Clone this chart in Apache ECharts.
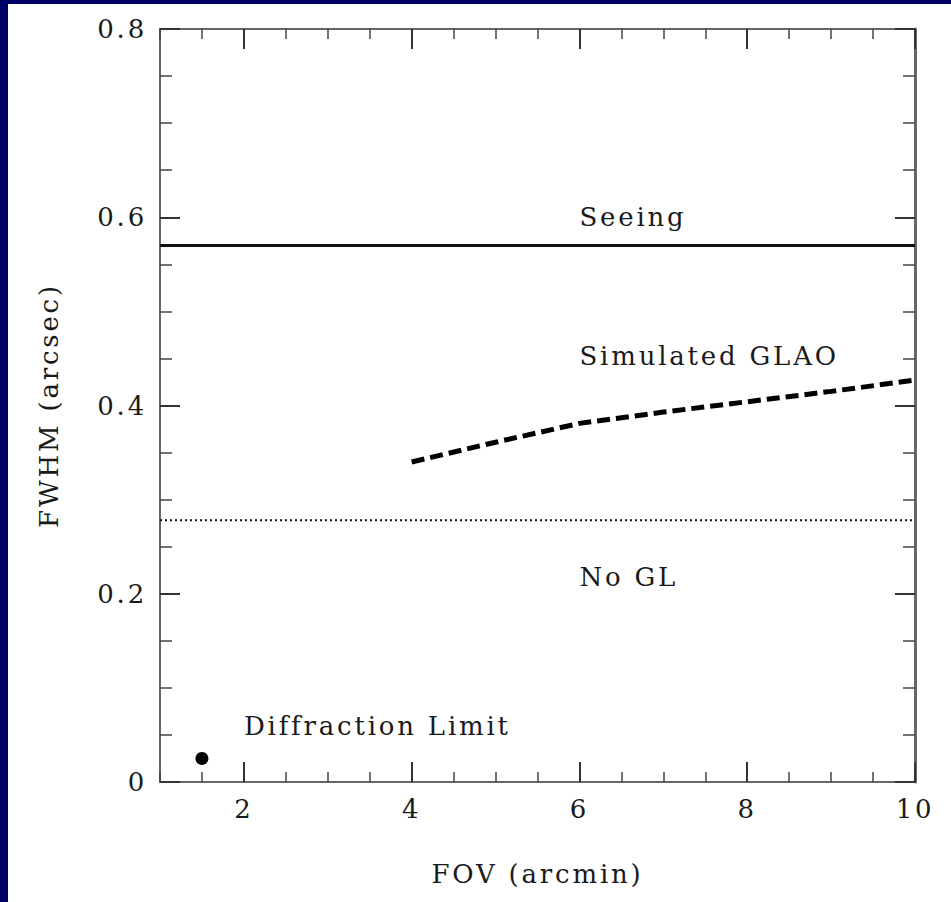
<!DOCTYPE html>
<html>
<head>
<meta charset="utf-8">
<script src="https://cdn.jsdelivr.net/npm/echarts@6/dist/echarts.min.js"></script>
<style>
  html, body { margin: 0; padding: 0; width: 951px; height: 902px; background: #000068; overflow: hidden; }
  #chart { position: absolute; left: 8px; top: 4px; width: 943px; height: 898px; background: #ffffff; }
  /* the original lettering is widely spaced */
  #chart svg text { letter-spacing: 2.8px; }
</style>
</head>
<body>
<div id="chart"></div>
<script>
// data
const seeingX = [1, 10];
const seeingY = [0.57, 0.57];
const noGlX = [1, 10];
const noGlY = [0.278, 0.278];
const glaoX = [4, 5, 6, 7, 8, 9, 10];
const glaoY = [0.34, 0.361, 0.381, 0.393, 0.404, 0.415, 0.427];
const diffX = [1.5];
const diffY = [0.025];

const noteText = ["Seeing", "Simulated GLAO", "No GL", "Diffraction Limit"];
const noteX = [6.0, 6.0, 6.0, 2.0];
const noteY = [0.6, 0.453, 0.218, 0.06];

const xMajorTicks = [2, 4, 6, 8, 10];

const FONT = "DejaVu Serif";
const INK = "#1a1a1a";
const AXIS = "#666";

const zip = (xs, ys) => xs.map((x, i) => [x, ys[i]]);

const chart = echarts.init(document.getElementById("chart"), null, { renderer: "svg" });

const xBase = { type: "value", min: 1, max: 10, splitLine: { show: false } };
const yBase = { type: "value", min: 0, max: 0.8, splitLine: { show: false } };
const minorLine = { color: "#444", width: 1.5 };
const majorLine = { color: "#333", width: 2 };

const option = {
  animation: false,
  backgroundColor: "#ffffff",
  grid: { left: 152, right: 36, top: 25, bottom: 120 },
  xAxis: [
    { ...xBase, position: "bottom", interval: 0.5,
      axisLine: { onZero: false, lineStyle: { color: AXIS, width: 2 } },
      axisTick: { inside: true, length: 10, lineStyle: minorLine },
      axisLabel: { show: false } },
    { ...xBase, position: "bottom",
      axisLine: { show: false, onZero: false },
      axisTick: { inside: true, length: 20, customValues: xMajorTicks, lineStyle: majorLine },
      axisLabel: { customValues: xMajorTicks, fontFamily: FONT, fontSize: 26, color: INK, margin: 14 },
      name: "FOV (arcmin)", nameLocation: "middle", nameGap: 79,
      nameTextStyle: { fontFamily: FONT, fontSize: 26, color: INK } },
    { ...xBase, position: "top", interval: 0.5,
      axisLine: { onZero: false, lineStyle: { color: AXIS, width: 2 } },
      axisTick: { inside: true, length: 10, lineStyle: minorLine },
      axisLabel: { show: false } },
    { ...xBase, position: "top",
      axisLine: { show: false, onZero: false },
      axisTick: { inside: true, length: 20, customValues: xMajorTicks, lineStyle: majorLine },
      axisLabel: { show: false } }
  ],
  yAxis: [
    { ...yBase, position: "left", interval: 0.05,
      axisLine: { show: true, onZero: false, lineStyle: { color: AXIS, width: 2 } },
      axisTick: { show: true, inside: true, length: 12, lineStyle: minorLine },
      axisLabel: { show: false } },
    { ...yBase, position: "left", interval: 0.2,
      axisLine: { show: false, onZero: false },
      axisTick: { show: true, inside: true, length: 20, lineStyle: majorLine },
      axisLabel: { fontFamily: FONT, fontSize: 26, color: INK, margin: 13 },
      name: "FWHM (arcsec)", nameLocation: "middle", nameGap: 98, nameRotate: 90,
      nameTextStyle: { fontFamily: FONT, fontSize: 26, color: INK } },
    { ...yBase, position: "right", interval: 0.05,
      axisLine: { show: true, onZero: false, lineStyle: { color: AXIS, width: 3 } },
      axisTick: { show: true, inside: true, length: 12, lineStyle: minorLine },
      axisLabel: { show: false } },
    { ...yBase, position: "right", interval: 0.2,
      axisLine: { show: false, onZero: false },
      axisTick: { show: true, inside: true, length: 20, lineStyle: majorLine },
      axisLabel: { show: false } }
  ],
  series: [
    {
      name: "Seeing", type: "line", data: zip(seeingX, seeingY),
      symbol: "none", lineStyle: { color: "#111", width: 3 }, silent: true
    },
    {
      name: "No GL", type: "line", data: zip(noGlX, noGlY),
      symbol: "none", lineStyle: { color: "#111", width: 2, type: [2, 3] }, silent: true
    },
    {
      name: "Simulated GLAO", type: "line", data: zip(glaoX, glaoY),
      symbol: "none", lineStyle: { color: "#000", width: 5, type: [13, 6] }, silent: true
    },
    {
      name: "Diffraction Limit", type: "scatter", data: zip(diffX, diffY),
      symbol: "circle", symbolSize: 13, itemStyle: { color: "#000", opacity: 1 }, silent: true
    }
  ]
};

chart.setOption(option);

// curve labels, placed through the axes' own scale
const notes = noteText.map((t, i) => {
  const [px, py] = chart.convertToPixel({ xAxisIndex: 0, yAxisIndex: 0 }, [noteX[i], noteY[i]]);
  return {
    type: "text", x: px, y: py, silent: true,
    style: {
      text: t, fill: INK, font: "26px '" + FONT + "'",
      textAlign: "left", textVerticalAlign: "middle"
    }
  };
});
chart.setOption({ graphic: notes });
</script>
</body>
</html>
